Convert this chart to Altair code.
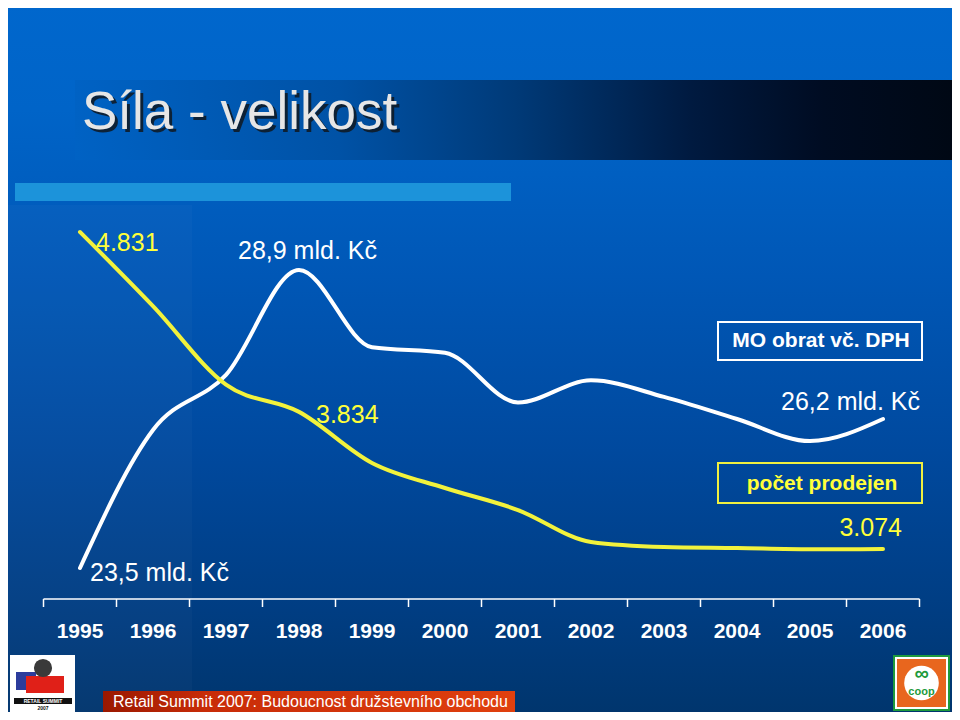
import altair as alt
import pandas as pd

# ---------------- data ----------------
years = list(range(1995, 2007))
obrat = [23.5, 26.0, 27.0, 28.9, 27.5, 27.4, 26.5, 26.9, 26.6, 26.2, 25.8, 26.2]   # mld. Kč
prodejny = [4831, 4420, 3985, 3834, 3551, 3412, 3290, 3113, 3085, 3079, 3072, 3074]  # počet prodejen
year_labels = [str(y) for y in years]
tick_edges = [y - 0.5 for y in years] + [years[-1] + 0.5]

title_text = "Síla - velikost"
legend_obrat = "MO obrat vč. DPH"
legend_prodejny = "počet prodejen"
footer_text = "Retail Summit 2007: Budoucnost družstevního obchodu"
labels_obrat = ["23,5 mld. Kč", "28,9 mld. Kč", "26,2 mld. Kč"]
labels_prodejny = ["4.831", "3.834", "3.074"]

df = pd.DataFrame({"rok": years, "obrat": obrat, "prodejny": prodejny, "label": year_labels})
edges = pd.DataFrame({"e": tick_edges})
one = pd.DataFrame({"a": [0]})

W, H = 944, 704
OFF = 8  # page margin; reference coordinates are page coordinates
FONT = "Liberation Sans"

xscale = alt.Scale(domain=[1995 - 72 / 73, 1995 + (W - 72) / 73], nice=False, zero=False)
y_obrat = alt.Scale(domain=[20.891, 33.647], nice=False, zero=False)
y_prod = alt.Scale(domain=[2170.4, 6072.6], nice=False, zero=False)

def px(v):
    return alt.value(v - OFF)

def rect(x1, y1, x2, y2, **kw):
    return alt.Chart(one).mark_rect(**kw).encode(x=px(x1), x2=px(x2), y=px(y1), y2=px(y2))

def txt(s, x, y, **kw):
    base = dict(align="left", baseline="middle", font=FONT)
    base.update(kw)
    return alt.Chart(one).mark_text(text=s, **base).encode(x=px(x), y=px(y))

# ---------------- background ----------------
bg = rect(0, 0, 968, 728, fill=alt.LinearGradient(
    gradient="linear", x1=0, x2=0, y1=0, y2=1,
    stops=[alt.GradientStop(color="#0067CD", offset=0),
           alt.GradientStop(color="#0064C8", offset=0.15),
           alt.GradientStop(color="#0057B6", offset=0.38),
           alt.GradientStop(color="#00499E", offset=0.62),
           alt.GradientStop(color="#003D82", offset=0.84),
           alt.GradientStop(color="#00346A", offset=1)]))
left_strip = rect(0, 205, 192, 728, fill="white", opacity=0.025)
band = rect(75, 80, 955, 160, fill=alt.LinearGradient(
    gradient="linear", x1=0, x2=1, y1=0, y2=0,
    stops=[alt.GradientStop(color="#0062C4", offset=0),
           alt.GradientStop(color="#0052A6", offset=0.3),
           alt.GradientStop(color="#003A78", offset=0.5),
           alt.GradientStop(color="#001A40", offset=0.7),
           alt.GradientStop(color="#000C22", offset=0.85),
           alt.GradientStop(color="#000814", offset=1)]))
right_edge = rect(955, 0, 968, 728, fill="white")
lightbar = rect(15, 183, 511, 201, fill="#1C93DA")

title_shadow = txt(title_text, 85, 116, fontSize=53, color="#101820", opacity=0.85)
title = txt(title_text, 82, 113, fontSize=53, color="#E6E6E6")

# ---------------- axis ----------------
axis_line = alt.Chart(edges).mark_rule(color="white", strokeWidth=1.5).encode(
    x=alt.X("min(e):Q", scale=xscale, axis=None), x2="max(e):Q", y=px(599))
ticks = alt.Chart(edges).mark_rule(color="white", strokeWidth=1.5).encode(
    x=alt.X("e:Q", scale=xscale, axis=None), y=px(599), y2=px(607))
year_text = alt.Chart(df).mark_text(font=FONT, fontSize=21, fontWeight="bold", color="white",
                                    baseline="middle").encode(
    x=alt.X("rok:Q", scale=xscale, axis=None), y=px(632), text="label:N")

# ---------------- lines ----------------
line_obrat = alt.Chart(df).mark_line(color="white", strokeWidth=4, interpolate="monotone",
                                     strokeCap="round").encode(
    x=alt.X("rok:Q", scale=xscale, axis=None),
    y=alt.Y("obrat:Q", scale=y_obrat, axis=None))
line_prod = alt.Chart(df).mark_line(color="#F2F23C", strokeWidth=4, interpolate="monotone",
                                    strokeCap="round").encode(
    x=alt.X("rok:Q", scale=xscale, axis=None),
    y=alt.Y("prodejny:Q", scale=y_prod, axis=None))

# ---------------- annotations ----------------
YEL = "#FFFF3A"
lab_kw = dict(fontSize=25)
ann = [
    txt(labels_prodejny[0], 96, 243, color=YEL, **lab_kw),
    txt(labels_obrat[1], 238, 251, color="white", **lab_kw),
    txt(labels_prodejny[1], 316, 415, color=YEL, **lab_kw),
    txt(labels_obrat[2], 920, 402, color="white", align="right", **lab_kw),
    txt(labels_prodejny[2], 902, 528, color=YEL, align="right", **lab_kw),
    txt(labels_obrat[0], 90, 573, color="white", **lab_kw),
]
box1 = rect(718, 322, 922, 360, fillOpacity=0, stroke="white", strokeWidth=2)
box2 = rect(718, 463, 922, 503, fillOpacity=0, stroke="#F0F040", strokeWidth=2)
leg1 = txt(legend_obrat, 821, 341, align="center", fontSize=21, fontWeight="bold", color="white")
leg2 = txt(legend_prodejny, 822, 484, align="center", fontSize=21, fontWeight="bold", color=YEL)

# ---------------- footer ----------------
footer_bar = rect(103, 691, 515, 712, fill=alt.LinearGradient(
    gradient="linear", x1=0, x2=1, y1=0, y2=0,
    stops=[alt.GradientStop(color="#9A1800", offset=0),
           alt.GradientStop(color="#C82C08", offset=0.25),
           alt.GradientStop(color="#E0400E", offset=1)]))
footer = txt(footer_text, 113, 702, fontSize=16, color="white")

# Retail Summit logo (simplified)
rs_bg = rect(10, 655, 75, 712, fill="white")
rs_blue = rect(16, 672, 36, 690, fill="#2C3C9C")
rs_red = rect(26, 676, 64, 693, fill="#E02018")
rs_ball = alt.Chart(one).mark_point(shape="circle", size=330, filled=True, color="#3A3A3A",
                                    opacity=1).encode(x=px(43), y=px(668))
rs_strip = rect(14, 698, 72, 704, fill="#111111")
rs_text = txt("RETAIL SUMMIT", 43, 701, align="center", fontSize=5, fontWeight="bold", color="white")
rs_year = txt("2007", 43, 707.5, align="center", fontSize=5, fontWeight="bold", color="#111111")

# COOP logo (simplified)
coop_g = rect(893, 655, 950, 711, fill="#1E9A3C")
coop_w = rect(895, 657, 948, 709, fill="white")
coop_o = rect(897, 659, 946, 707, fill="#E8661E")
coop_c = alt.Chart(one).mark_point(shape="circle", size=1200, filled=True, color="white",
                                   opacity=1).encode(x=px(921.5), y=px(683))
coop_sym = txt("∞", 921.5, 674, align="center", fontSize=20, fontWeight="bold", color="#1E9A3C")
coop_t = txt("coop", 921.5, 692, align="center", fontSize=11, fontWeight="bold", color="#1E9A3C")

layers = [bg, left_strip, band, right_edge, lightbar, title_shadow, title,
          axis_line, ticks, year_text,
          line_obrat, line_prod, *ann, box1, box2, leg1, leg2,
          footer_bar, footer, rs_bg, rs_blue, rs_red, rs_ball, rs_strip, rs_text, rs_year,
          coop_g, coop_w, coop_o, coop_c, coop_sym, coop_t]

chart = alt.layer(*layers).resolve_scale(y="independent").properties(
    width=W, height=H, padding=0, autosize=alt.AutoSizeParams(type="none"),
    background="#0060C0"
).configure_view(stroke=None, clip=False)

chart.save("out.html", embed_options={"renderer": "svg", "actions": False})
